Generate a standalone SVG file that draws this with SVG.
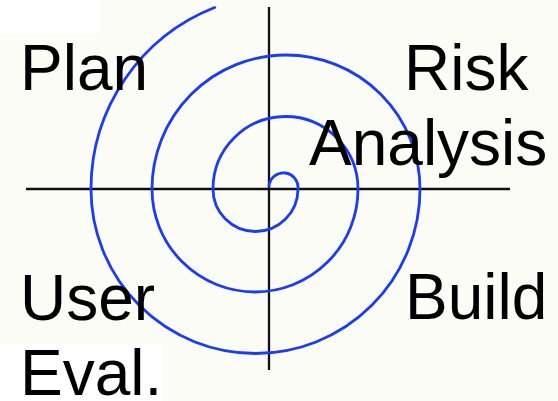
<svg xmlns="http://www.w3.org/2000/svg" width="558" height="401" viewBox="0 0 558 401">
  <style>
    .axis { stroke: #111111; stroke-width: 2.3; fill: none; }
    .spiral { stroke: #1a3cf5; stroke-width: 2.8; fill: none; stroke-linecap: round; }
    .lbl { font-family: "Liberation Sans", Arial, sans-serif; font-size: 64px; fill: #000; }
  </style>
  <rect width="558" height="401" fill="#fcfcf7"/>
  <rect x="0" y="0" width="100" height="33" fill="#ffffff"/>
  <rect x="0" y="344" width="163" height="57" fill="#ffffff"/>
  <g id="axes">
    <line class="axis" x1="26" y1="189" x2="510" y2="189"/>
    <line class="axis" x1="269" y1="7" x2="269" y2="370"/>
  </g>
  <g id="connectors">
    <path id="spiral" class="spiral" d="M 269 186 A 14.5 14.5 0 0 1 298 189 A 42.5 42.5 0 0 1 213 189 A 72.5 72.5 0 0 1 358 189 A 103 103 0 0 1 152 189 A 134 134 0 0 1 420 189 A 164.5 164.5 0 0 1 91 189 A 195 195 0 0 1 214.6 7.5"/>
  </g>
  <g id="plan"><text class="lbl" x="20" y="90">Plan</text></g>
  <g id="risk-analysis">
    <text class="lbl" x="404" y="90">Risk</text>
    <text class="lbl" x="309" y="165">Analysis</text>
  </g>
  <g id="user-eval">
    <text class="lbl" x="20" y="320">User</text>
    <text class="lbl" x="20" y="395">Eval.</text>
  </g>
  <g id="build"><text class="lbl" x="405" y="319">Build</text></g>
</svg>
